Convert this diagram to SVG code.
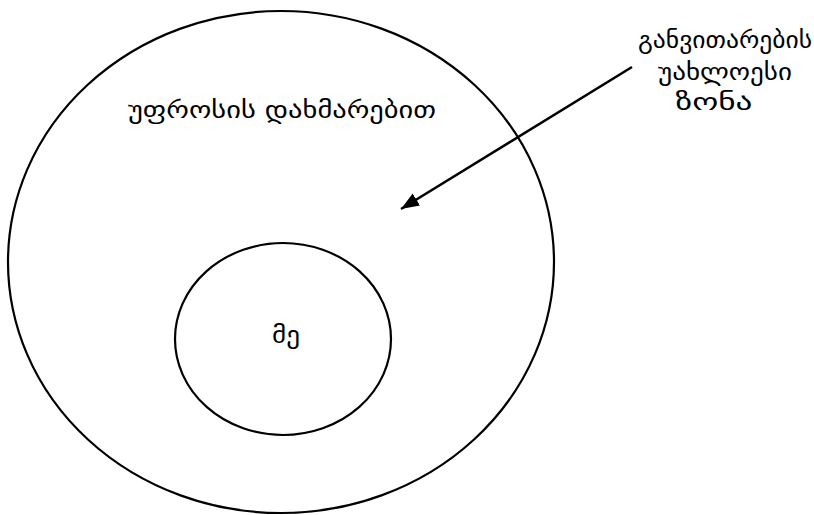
<svg xmlns="http://www.w3.org/2000/svg" width="814" height="515" viewBox="0 0 814 515">
<style>
.shape{fill:none;stroke:#000;stroke-width:2.2}
.lbl{font-family:"DejaVu Sans","Noto Sans",sans-serif;fill:#000;text-anchor:middle}
</style>
<defs>
<marker id="ah" markerUnits="userSpaceOnUse" markerWidth="20" markerHeight="16" refX="18" refY="7" orient="auto">
<path d="M0,0 L18,7 L0,14 Z" fill="#000"/>
</marker>
</defs>
<rect width="814" height="515" fill="#fff"/>
<g id="outer">
<ellipse class="shape" cx="281" cy="262" rx="273" ry="251"/>
<text class="lbl" x="282" y="118" font-size="23" textLength="308" lengthAdjust="spacingAndGlyphs">უფროსის დახმარებით</text>
</g>
<g id="inner">
<ellipse class="shape" cx="283" cy="339" rx="108" ry="96"/>
<text class="lbl" x="286" y="343" font-size="23" textLength="28" lengthAdjust="spacingAndGlyphs">მე</text>
</g>
<g id="zone-label">
<text class="lbl" x="725" y="48" font-size="23" textLength="174" lengthAdjust="spacingAndGlyphs">განვითარების</text>
<text class="lbl" x="725" y="80" font-size="23" textLength="134" lengthAdjust="spacingAndGlyphs">უახლოესი</text>
<text class="lbl" x="714" y="110" font-size="23" textLength="77" lengthAdjust="spacingAndGlyphs">ზონა</text>
</g>
<g id="connectors">
<line x1="632" y1="67" x2="401" y2="209" stroke="#000" stroke-width="2.5" marker-end="url(#ah)"/>
</g>
</svg>
